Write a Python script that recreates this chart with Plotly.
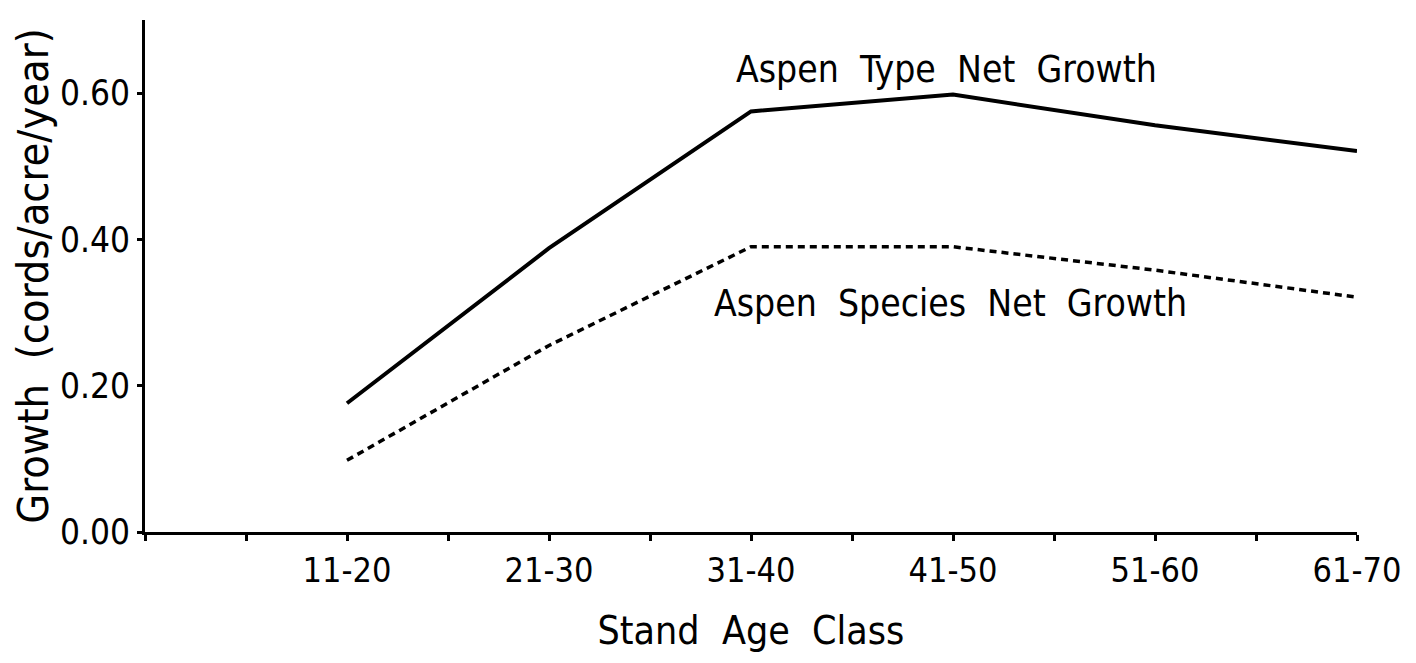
import plotly.graph_objects as go

categories = ["11-20", "21-30", "31-40", "41-50", "51-60", "61-70"]
aspen_type = [0.176, 0.388, 0.575, 0.598, 0.556, 0.521]
aspen_species = [0.098, 0.255, 0.39, 0.39, 0.358, 0.321]
y_ticks = [0.0, 0.2, 0.4, 0.6]

FONT = "DejaVu Sans Condensed, Liberation Sans Narrow, sans-serif"
xpos = list(range(1, len(categories) + 1))

fig = go.Figure()
fig.add_trace(go.Scatter(x=xpos, y=aspen_type, mode="lines",
                         line=dict(color="black", width=4), showlegend=False))
fig.add_trace(go.Scatter(x=xpos, y=aspen_species, mode="lines",
                         line=dict(color="black", width=3.5, dash="7px,5px"), showlegend=False))

fig.add_annotation(x=3.97, y=0.633, text="Aspen  Type  Net  Growth", showarrow=False,
                   font=dict(family=FONT, size=37, color="black"))
fig.add_annotation(x=3.99, y=0.313, text="Aspen  Species  Net  Growth", showarrow=False,
                   font=dict(family=FONT, size=37, color="black"))

# page body has an 8px default margin, margins compensate for it
fig.update_layout(
    width=1416, height=663,
    margin=dict(l=137, r=67, t=12, b=139),
    paper_bgcolor="white", plot_bgcolor="white",
    font=dict(family=FONT, color="black"),
)
fig.update_xaxes(
    range=[0, len(categories)], tickvals=xpos, ticktext=categories,
    showline=True, linecolor="black", linewidth=3,
    ticks="outside", ticklen=6, tickwidth=2.5, tickcolor="black",
    minor=dict(tick0=0, dtick=0.5, ticks="outside", ticklen=6, tickwidth=2.5, tickcolor="black"),
    showgrid=False, zeroline=False, automargin=False,
    tickfont=dict(size=34, family=FONT),
    title=dict(text="Stand  Age  Class", font=dict(size=39, family=FONT), standoff=28),
)
fig.update_yaxes(
    range=[0, 0.70], tickvals=y_ticks, tickformat=".2f",
    showline=True, linecolor="black", linewidth=3,
    ticks="outside", ticklen=5, tickwidth=2.5, tickcolor="black",
    showgrid=False, zeroline=False, automargin=False,
    tickfont=dict(size=35, family=FONT),
    title=dict(text="Growth  (cords/acre/year)", font=dict(size=43, family=FONT), standoff=0),
)

fig.write_html("out.html")
